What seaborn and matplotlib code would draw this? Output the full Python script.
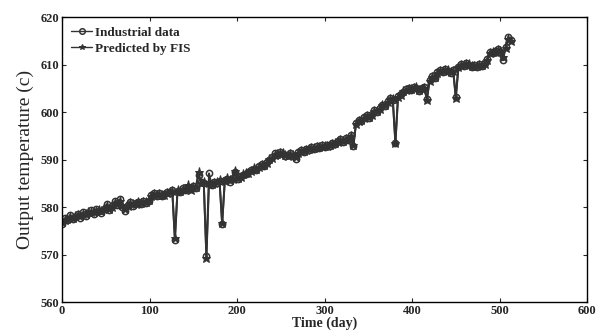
import numpy as np
import pandas as pd
import matplotlib
matplotlib.use('Agg')
import matplotlib.pyplot as plt
import seaborn as sns

# ==================== Data (one value every 3 days) ====================
days = list(range(0, 516, 3))

industrial = [
    576.5, 577.6, 577.2, 578.3, 577.4, 577.9, 578.6, 577.8, 578.9, 578.2,
    578.7, 579.3, 578.6, 579.5, 579.1, 578.8, 579.7, 580.6, 579.4, 580.2,
    581.2, 580.4, 581.6, 580.1, 579.2, 580.5, 581.0, 580.3, 580.9, 581.1,
    580.7, 581.2, 580.8, 581.3, 582.6, 582.9, 582.4, 583.0, 582.3, 582.8,
    583.2, 582.9, 583.6, 573.0, 583.4, 583.1, 584.0, 583.5, 584.2, 583.8,
    584.5, 584.0, 586.8, 585.2, 585.0, 569.8, 587.1, 584.6, 585.3, 585.0,
    585.4, 576.4, 585.6, 586.0, 585.3, 586.2, 587.4, 585.9, 586.5, 586.8,
    587.0, 587.3, 587.8, 588.1, 587.9, 588.6, 589.0, 588.7, 589.4, 589.9,
    590.5, 591.3, 591.0, 591.6, 591.2, 590.8, 591.0, 591.4, 590.7, 590.2,
    591.5, 592.0, 591.7, 592.3, 592.1, 592.6, 592.2, 592.8, 592.5, 593.0,
    592.6, 593.1, 592.8, 593.4, 593.2, 593.9, 594.3, 593.7, 594.6, 594.1,
    595.2, 592.8, 597.8, 598.4, 598.1, 598.9, 599.3, 598.8, 599.6, 600.4,
    600.0, 600.9, 601.6, 601.2, 602.3, 602.9, 602.5, 593.6, 603.4, 603.9,
    604.2, 604.8, 605.0, 604.6, 605.3, 605.0, 604.4, 605.1, 605.2, 602.8,
    606.8, 607.6, 607.2, 608.4, 608.9, 608.5, 609.1, 608.6, 608.3, 608.9,
    603.2, 609.6, 610.2, 609.8, 610.3, 610.0, 609.6, 609.9, 609.5, 610.1,
    609.8, 610.4, 611.2, 612.6, 612.4, 612.9, 613.3, 612.7, 610.9, 613.8,
    615.8, 615.2,
]

predicted = [
    576.8, 577.3, 577.5, 578.0, 577.7, 578.2, 578.3, 578.1, 578.6, 578.5,
    578.9, 579.0, 578.9, 579.2, 579.4, 579.1, 579.5, 580.3, 579.7, 580.0,
    580.9, 580.7, 581.3, 580.4, 579.5, 580.2, 580.8, 580.6, 580.7, 581.0,
    580.9, 581.0, 581.0, 581.5, 582.3, 582.7, 582.6, 582.8, 582.5, 582.6,
    583.0, 583.1, 583.4, 573.4, 583.6, 583.3, 583.8, 583.7, 584.6, 583.6,
    584.2, 584.3, 587.3, 585.0, 585.2, 569.3, 585.0, 584.9, 585.1, 585.2,
    585.6, 576.6, 585.4, 586.2, 585.6, 586.0, 587.6, 586.1, 586.3, 586.9,
    587.2, 587.1, 587.6, 588.3, 588.1, 588.4, 588.8, 588.9, 589.2, 590.1,
    590.3, 591.0, 591.2, 591.4, 591.4, 591.0, 590.8, 591.2, 590.9, 590.5,
    591.3, 591.8, 591.9, 592.1, 592.3, 592.4, 592.4, 592.6, 592.7, 592.8,
    592.8, 592.9, 593.0, 593.2, 593.4, 593.7, 594.1, 593.9, 594.4, 594.3,
    595.0, 593.1, 597.5, 598.2, 598.3, 598.7, 599.1, 599.0, 599.4, 600.2,
    600.2, 600.7, 601.4, 601.4, 602.1, 602.7, 602.7, 593.4, 603.2, 603.7,
    604.4, 604.6, 604.8, 604.8, 605.1, 605.2, 604.6, 604.9, 605.0, 602.6,
    606.5, 607.4, 607.4, 608.2, 608.7, 608.7, 608.9, 608.8, 608.5, 608.7,
    602.9, 609.4, 610.0, 610.0, 610.1, 610.2, 609.8, 609.7, 609.7, 609.9,
    610.0, 610.2, 611.0, 612.4, 612.6, 612.7, 613.1, 612.9, 611.6, 613.5,
    615.4, 615.0,
]

df = pd.DataFrame({'day': days, 'industrial': industrial, 'predicted': predicted})

# ==================== Style ====================
sns.set_style('ticks')
plt.rcParams['font.family'] = ['Liberation Serif', 'DejaVu Serif']
plt.rcParams['xtick.direction'] = 'in'
plt.rcParams['ytick.direction'] = 'in'

LINE = '#333333'

fig = plt.figure(figsize=(5.98, 3.36), dpi=100)
ax = fig.add_axes([0.1037, 0.101, 0.878, 0.848])

sns.lineplot(data=df, x='day', y='industrial', ax=ax, color=LINE, linewidth=1.4,
             marker='o', markersize=4.5, markerfacecolor='none', markeredgecolor=LINE,
             markeredgewidth=1.1, estimator=None, label='Industrial data')
sns.lineplot(data=df, x='day', y='predicted', ax=ax, color=LINE, linewidth=1.4,
             marker='*', markersize=6.5, markerfacecolor=LINE, markeredgecolor=LINE,
             estimator=None, label='Predicted by FIS')

ax.set_xlim(0, 600)
ax.set_ylim(560, 620)
ax.set_xticks(range(0, 601, 100))
ax.set_yticks(range(560, 621, 10))
ax.tick_params(axis='both', which='both', top=True, right=True, length=3,
               width=0.8, labelsize=9, pad=2)
for lab in ax.get_xticklabels() + ax.get_yticklabels():
    lab.set_fontweight('bold')
for s in ax.spines.values():
    s.set_linewidth(1.0)
    s.set_color('black')

ax.set_xlabel('Time (day)', fontsize=10, fontweight='bold', labelpad=0)
ax.set_ylabel('Output temperature (c)', fontsize=14, labelpad=5)

leg = ax.legend(loc='upper left', frameon=False, handlelength=1.6, handletextpad=0.2,
                borderaxespad=0.3, labelspacing=0.3,
                prop={'family': 'Liberation Serif', 'weight': 'bold', 'size': 9.5})
for h in leg.legend_handles:
    h.set_markersize(4)
    h.set_linewidth(1.0)

fig.savefig('out.png', dpi=100)
